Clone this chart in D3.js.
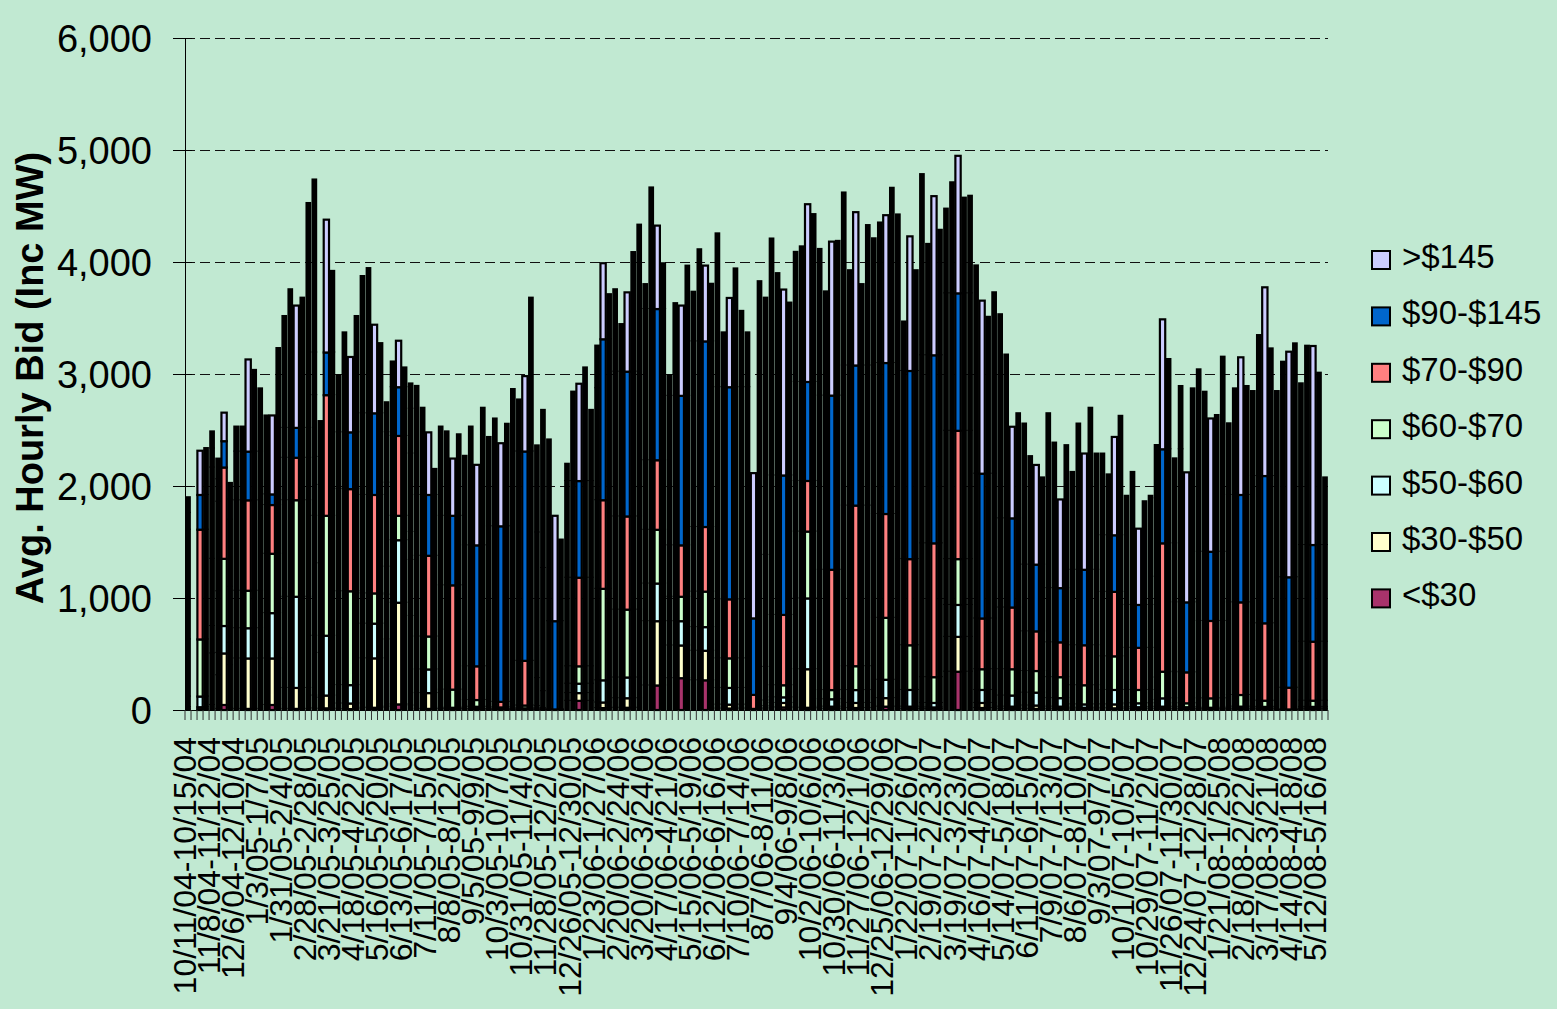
<!DOCTYPE html>
<html>
<head>
<meta charset="utf-8">
<script src="https://cdn.jsdelivr.net/npm/d3@7"></script>
<style>
html, body { margin: 0; padding: 0; background: #c1e9d2; }
svg { display: block; font-family: "Liberation Sans", Arial, sans-serif; }
</style>
</head>
<body>
<div id="chart"></div>
<script>
// weekly avg hourly inc bids (MW) split by price band, 190 weeks starting 10/11/04
const tickLabels = ["10/11/04-10/15/04","11/8/04-11/12/04","12/6/04-12/10/04","1/3/05-1/7/05","1/31/05-2/4/05",
  "2/28/05-2/28/05","3/21/05-3/25/05","4/18/05-4/22/05","5/16/05-5/20/05","6/13/05-6/17/05","7/11/05-7/15/05",
  "8/8/05-8/12/05","9/5/05-9/9/05","10/3/05-10/7/05","10/31/05-11/4/05","11/28/05-12/2/05","12/26/05-12/30/05",
  "1/23/06-1/27/06","2/20/06-2/24/06","3/20/06-3/24/06","4/17/06-4/21/06","5/15/06-5/19/06","6/12/06-6/16/06",
  "7/10/06-7/14/06","8/7/06-8/11/06","9/4/06-9/8/06","10/2/06-10/6/06","10/30/06-11/3/06","11/27/06-12/1/06",
  "12/25/06-12/29/06","1/22/07-1/26/07","2/19/07-2/23/07","3/19/07-3/23/07","4/16/07-4/20/07","5/14/07-5/18/07",
  "6/11/07-6/15/07","7/9/07-7/13/07","8/6/07-8/10/07","9/3/07-9/7/07","10/1/07-10/5/07","10/29/07-11/2/07",
  "11/26/07-11/30/07","12/24/07-12/28/07","1/21/08-1/25/08","2/18/08-2/22/08","3/17/08-3/21/08","4/14/08-4/18/08",
  "5/12/08-5/16/08"];
const labelEvery = 4;
const weekCount = 190;

const under30 = [5,0,5,5,45,10,45,20,10,10, 10,10,10,45,45,45,10,10,10,10, 10,15,10,15,15,8,8,8,8,20,
  20,20,20,30,50,50,50,40,10,10, 10,10,5,5,5,5,4,4,4,4, 1,1,1,1,2,2,2,2,2,1,
  0,0,0,82,82,82,82,82,17,17, 17,20,20,20,20,20,219,219,219,219, 284,284,284,284,265,265,265,265,13,13,
  13,13,13,13,1,5,5,23,23,23, 23,20,20,20,20,10,10,10,10,18, 18,18,18,18,30,30,30,30,10,10,
  10,10,8,8,8,8,342,342,342,342, 342,18,18,18,18,10,10,10,10,10, 10,10,10,10,10,10,10,5,5,5,
  5,5,15,15,15,15,10,10,10,10, 10,10,10,10,4,10,4,4,3,3, 3,3,3,4,4,4,4,5,5,5,
  5,0,0,0,0,5,5,5,5,5];
const band30to50 = [20,0,20,20,460,300,460,380,450,450, 450,450,450,415,415,415,187,187,187,187, 187,114,100,114,114,50,50,50,50,441,
  441,441,441,600,908,908,908,800,141,141, 141,141,5,5,5,5,5,5,5,5, 2,2,2,2,3,3,3,3,3,2,
  0,0,0,69,69,69,69,69,50,50, 50,85,85,85,85,85,574,574,574,574, 292,292,292,292,264,264,264,264,35,35,
  35,35,35,35,1,10,10,40,40,40, 40,344,344,344,344,20,20,20,20,45, 45,45,45,45,76,76,76,76,20,20,
  20,20,15,15,15,15,311,311,311,311, 311,45,45,45,45,20,20,20,20,30, 30,30,30,20,20,20,20,15,15,15,
  15,15,35,35,35,35,15,15,15,15, 15,20,20,20,6,20,6,6,5,5, 5,5,5,8,8,8,8,8,8,8,
  8,1,1,1,1,8,8,8,8,8];
const band50to60 = [95,0,95,95,245,200,245,200,270,270, 270,270,270,405,405,405,814,814,814,814, 814,534,400,534,534,164,164,164,164,310,
  310,310,310,400,558,558,558,500,211,211, 211,211,10,10,10,10,20,20,20,20, 5,5,5,5,10,10,10,10,10,5,
  1,1,1,84,84,84,84,84,198,198, 198,185,185,185,185,185,336,336,336,336, 217,217,217,217,211,211,211,211,149,149,
  149,149,149,149,3,20,20,50,50,50, 50,632,632,632,632,66,66,66,66,115, 115,115,115,115,164,164,164,164,149,149,
  149,149,40,40,40,40,285,285,285,285, 285,116,116,116,116,99,99,99,99,115, 115,115,115,76,76,76,76,30,30,30,
  30,30,129,129,129,129,35,35,35,35, 35,60,74,74,15,74,15,15,12,12, 12,12,12,18,18,18,18,15,15,15,
  15,1,1,1,1,15,15,15,15,15];
const band60to70 = [510,0,510,510,600,550,600,500,335,335, 335,335,335,530,530,530,862,862,862,862, 862,1071,800,1071,1071,838,838,838,838,270,
  270,270,270,250,218,218,218,250,294,294, 294,294,162,162,162,162,60,60,60,60, 15,15,15,15,25,25,25,25,20,10,
  1,1,1,155,155,155,155,155,817,817, 817,606,606,606,606,606,480,480,480,480, 218,218,218,218,317,317,317,317,264,264,
  264,264,264,264,5,50,50,108,108,108, 108,597,597,597,597,82,82,82,82,213, 213,213,213,213,553,553,553,553,399,399,
  399,399,230,230,230,230,409,409,409,409, 409,185,185,185,185,235,235,235,235,193, 193,193,193,187,187,187,187,171,171,171,
  171,171,300,300,300,300,119,119,119,119, 119,200,238,238,35,238,35,35,84,84, 84,84,84,104,104,104,104,55,55,55,
  55,3,3,3,3,55,55,55,55,55];
const band70to90 = [980,0,980,980,815,800,815,600,807,807, 807,807,807,435,435,435,379,379,379,379, 379,1077,700,1077,1077,912,912,912,912,879,
  879,879,879,750,713,713,713,700,721,721, 721,721,931,931,931,931,301,301,301,301, 50,50,50,50,399,399,399,399,250,150,
  3,3,3,791,791,791,791,791,791,791, 791,832,832,832,832,832,621,621,621,621, 459,459,459,459,577,577,577,577,527,527,
  527,527,527,527,125,300,300,628,628,628, 628,452,452,452,452,1074,1074,1074,1074,1434, 1434,1434,1434,1434,927,927,927,927,769,769,
  769,769,1195,1195,1195,1195,1146,1146,1146,1146, 1146,453,453,453,453,551,551,551,551,354, 354,354,354,311,311,311,311,357,357,357,
  357,357,576,576,576,576,376,376,376,376, 376,900,1146,1146,276,1146,276,276,691,691, 691,691,691,827,827,827,827,691,691,691,
  691,194,194,194,194,527,527,527,527,527];
const band90to145 = [150,0,310,310,170,200,235,180,435,435, 435,435,435,95,95,95,267,267,267,267, 267,381,250,381,381,507,507,507,507,729,
  729,729,729,450,435,435,435,400,543,543, 543,543,621,621,621,621,1080,1080,1080,1080, 1567,1567,1567,1567,1869,1869,1869,1869,1300,1100,
  788,788,788,863,863,863,863,863,1000,1437, 1437,1293,1293,1293,1293,1293,1350,1350,1350,1350, 1335,1335,1335,1335,1657,1657,1657,1657,1894,1894,
  1894,1894,1894,1894,683,1000,1000,1245,1245,1245, 1245,884,884,884,884,1555,1555,1555,1555,1251, 1251,1251,1251,1251,1348,1348,1348,1348,1680,1680,
  1680,1680,1679,1679,1679,1679,1227,1227,1227,1227, 1227,1293,1293,1293,1293,796,796,796,796,596, 596,596,596,484,484,484,484,674,674,674,
  674,674,505,505,505,505,383,383,383,383, 383,700,840,840,625,840,625,625,618,618, 618,618,618,959,959,959,959,1315,1315,1315,
  1315,986,986,986,986,863,863,863,863,863];
const over145 = [140,0,395,419,153,185,255,148,224,224, 823,730,565,705,705,1307,999,1238,1092,1163, 2008,1545,320,1186,729,511,893,673,1039,1226,
  1297,791,627,268,230,415,177,226,974,779, 559,233,797,754,511,728,800,1061,719,1229, 798,963,742,916,558,465,673,1374,778,1412,
  1623,941,729,155,799,869,1015,636,381,679, 403,736,425,708,1068,1313,223,1086,745,409, 185,828,806,1163,444,823,677,515,1374,490,
  797,1061,682,490,1297,2444,2297,2116,1807,1660, 1544,1162,1211,1587,1499,1310,931,1375,1382,1545, 851,1369,727,1254,1114,1255,1320,1565,1398,442,
  1202,900,1618,995,1421,1121,757,992,1228,855, 872,1860,1545,1401,1620,1823,1463,818,939,1260, 969,890,779,1562,1300,792,1277,874,1306,1038,
  1447,1038,730,544,878,1067,975,1188,681,926, 975,476,1160,806,1286,565,1161,1911,1629,1429, 1190,1221,1742,640,952,1229,973,759,1259,1685,
  1140,1663,1925,2014,2089,1444,1780,1777,1539,604];

const bands = ["<$30", "$30-$50", "$50-$60", "$60-$70", "$70-$90", "$90-$145", ">$145"];
const bandValues = [under30, band30to50, band50to60, band60to70, band70to90, band90to145, over145];
const bandColors = ["#a8336b", "#ffffcc", "#ccffff", "#ccffcc", "#ff8080", "#0066cc", "#ccccff"];
const yTicks = [0, 1000, 2000, 3000, 4000, 5000, 6000];

// at this bar width only some bars show their colours, the rest render as solid outline
const openBars = [2,6,10,14,18,23,27,31,35,40,44,48,52,56,61,65,69,73,78,82,86,90,94,99,103,107,111,116,
  120,124,128,132,137,141,145,149,154,158,162,166,170,175,179,183,187];

const W = 1557, H = 1009;
const plot = { left: 185, right: 1328, top: 38, bottom: 710 };

const weeks = d3.range(weekCount).map(i => {
  const row = { week: i };
  bands.forEach((b, k) => { row[b] = bandValues[k][i]; });
  return row;
});

const x = d3.scaleBand().domain(d3.range(weekCount)).range([plot.left, plot.right]).padding(0);
const y = d3.scaleLinear().domain([0, 6000]).range([plot.bottom, plot.top]);
const color = d3.scaleOrdinal().domain(bands).range(bandColors);
const stacked = d3.stack().keys(bands)(weeks);

const svg = d3.select("#chart").append("svg").attr("width", W).attr("height", H);
svg.append("rect").attr("width", W).attr("height", H).attr("fill", "#c1e9d2");

// gridlines
svg.append("g").selectAll("line").data(yTicks.filter(d => d > 0)).enter().append("line")
  .attr("x1", plot.left).attr("x2", plot.right)
  .attr("y1", d => y(d) + 0.5).attr("y2", d => y(d) + 0.5)
  .attr("stroke", "#111").attr("stroke-width", 1).attr("stroke-dasharray", "10,5");

const bw = x.bandwidth();
const segs = [];
stacked.forEach(layer => layer.forEach(d => {
  if (d[1] - d[0] > 0) segs.push({ key: layer.key, week: d.data.week, y0: d[0], y1: d[1] });
}));

// solid bars first
svg.append("g").selectAll("rect").data(segs.filter(s => !openBars.includes(s.week))).enter().append("rect")
  .attr("x", s => x(s.week) + 0.15)
  .attr("width", bw - 0.3)
  .attr("y", s => y(s.y1) - 1)
  .attr("height", s => y(s.y0) - y(s.y1) + 1)
  .attr("fill", "#000");

// open bars on top
svg.append("g").selectAll("rect").data(segs.filter(s => openBars.includes(s.week))).enter().append("rect")
  .attr("x", s => x(s.week) + bw / 2 - 2.65)
  .attr("width", 5.3)
  .attr("y", s => y(s.y1))
  .attr("height", s => y(s.y0) - y(s.y1))
  .attr("fill", s => color(s.key))
  .attr("stroke", "#000").attr("stroke-width", 2.2);

// y axis
svg.append("line").attr("x1", plot.left + 0.5).attr("x2", plot.left + 0.5)
  .attr("y1", plot.top).attr("y2", plot.bottom).attr("stroke", "#000").attr("stroke-width", 1);
svg.append("g").selectAll("line").data(yTicks).enter().append("line")
  .attr("x1", plot.left - 12).attr("x2", plot.left + 7)
  .attr("y1", d => y(d) + 0.5).attr("y2", d => y(d) + 0.5)
  .attr("stroke", "#000").attr("stroke-width", 1);
svg.append("g").selectAll("text").data(yTicks).enter().append("text")
  .attr("x", 152).attr("y", d => y(d))
  .attr("dy", "0.36em")
  .attr("text-anchor", "end")
  .attr("font-size", "38px")
  .text(d3.format(","));

// x axis
svg.append("line").attr("x1", plot.left).attr("x2", plot.right)
  .attr("y1", plot.bottom + 0.5).attr("y2", plot.bottom + 0.5).attr("stroke", "#000").attr("stroke-width", 1);
svg.append("g").selectAll("line").data(d3.range(weekCount + 1)).enter().append("line")
  .attr("x1", i => plot.left + i * bw).attr("x2", i => plot.left + i * bw)
  .attr("y1", plot.bottom).attr("y2", plot.bottom + 10)
  .attr("stroke", "#333").attr("stroke-width", 1);
svg.append("g").selectAll("text").data(tickLabels).enter().append("text")
  .attr("transform", (d, k) => `translate(${x(k * labelEvery) - 1},737) rotate(-90)`)
  .attr("text-anchor", "end")
  .attr("dy", "0.36em")
  .attr("font-size", "32px")
  .text(d => d);

// y title
svg.append("text")
  .attr("transform", "translate(29,378) rotate(-90)")
  .attr("text-anchor", "middle")
  .attr("dy", "0.36em")
  .attr("font-size", "38px")
  .attr("font-weight", "bold")
  .text("Avg. Hourly Bid (Inc MW)");

// legend, top band first
const legendItems = bands.slice().reverse();
const lg = svg.append("g").selectAll("g").data(legendItems).enter().append("g")
  .attr("transform", (d, k) => `translate(1372,${260 + k * 56.4})`);
lg.append("rect").attr("x", 0).attr("y", -9).attr("width", 18).attr("height", 18)
  .attr("fill", d => color(d)).attr("stroke", "#000").attr("stroke-width", 2);
lg.append("text").attr("x", 30).attr("y", 8)
  .attr("font-size", "33px")
  .text(d => d);
</script>
</body>
</html>
